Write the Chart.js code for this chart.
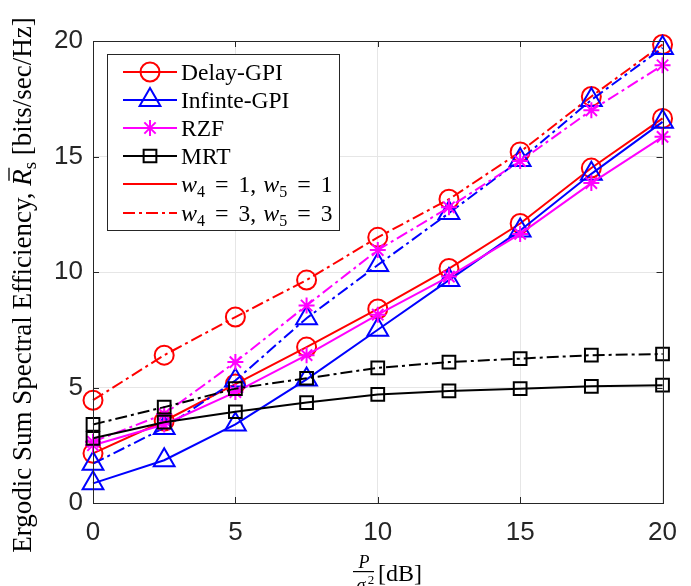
<!DOCTYPE html>
<html>
<head>
<meta charset="utf-8">
<script src="https://cdn.jsdelivr.net/npm/chart.js@4/dist/chart.umd.min.js"></script>
<style>
  html, body { margin: 0; padding: 0; background: #fff; }
  #wrap { width: 691px; height: 586px; }
</style>
</head>
<body>
<div id="wrap"><canvas id="c" width="691" height="586"></canvas></div>
<script>
// P/sigma^2 in dB
const snr = [0, 2.5, 5, 7.5, 10, 12.5, 15, 17.5, 20];

// w4 = 1, w5 = 1 (solid)
const delayW1 = [2.15, 3.55, 5.15, 6.75, 8.4, 10.15, 12.1, 14.5, 16.65];
const infW1   = [0.85, 1.85, 3.4, 5.35, 7.5, 9.65, 11.8, 14.25, 16.5];
const rzfW1   = [2.5, 3.4, 4.8, 6.4, 8.15, 9.8, 11.65, 13.85, 15.85];
const mrtW1   = [2.8, 3.5, 3.95, 4.35, 4.7, 4.85, 4.95, 5.05, 5.1];

// w4 = 3, w5 = 3 (dash-dot)
const delayW3 = [4.45, 6.4, 8.05, 9.65, 11.5, 13.15, 15.2, 17.6, 19.85];
const infW3   = [1.7, 3.25, 5.3, 8.0, 10.3, 12.55, 14.85, 17.45, 19.7];
const rzfW3   = [2.65, 3.85, 6.1, 8.55, 10.95, 12.8, 14.8, 17.0, 18.95];
const mrtW3   = [3.4, 4.15, 4.95, 5.4, 5.85, 6.1, 6.25, 6.4, 6.45];

const xTicks = [0, 5, 10, 15, 20];
const yTicks = [0, 5, 10, 15, 20];

const methods = ['Delay-GPI', 'Infinte-GPI', 'RZF', 'MRT'];
const colors = ['#ff0000', '#0000ff', '#ff00ff', '#000000'];
const markers = ['circle', 'triangle', 'star', 'rect'];
const radii = [9.5, 12, 8, 9];
const dashDot = [12, 4, 3, 4];

const toPts = arr => arr.map((v, i) => ({ x: snr[i], y: v }));

function series(label, values, k, dashed) {
  return {
    label: label,
    data: toPts(values),
    borderColor: colors[k],
    borderWidth: 2,
    borderDash: dashed ? dashDot : [],
    pointStyle: markers[k],
    pointRadius: radii[k],
    pointBorderWidth: 2,
    pointBorderColor: colors[k],
    pointBackgroundColor: 'rgba(0,0,0,0)',
    fill: false,
    tension: 0,
    clip: false
  };
}

const datasets = [
  series('Delay-GPI w1', delayW1, 0, false),
  series('Delay-GPI w3', delayW3, 0, true),
  series('Infinte-GPI w1', infW1, 1, false),
  series('Infinte-GPI w3', infW3, 1, true),
  series('RZF w1', rzfW1, 2, false),
  series('RZF w3', rzfW3, 2, true),
  series('MRT w1', mrtW1, 3, false),
  series('MRT w3', mrtW3, 3, true)
];
// later series on top, like matlab
datasets.forEach((d, i) => { d.order = datasets.length - i; });

const SERIF = '"Liberation Serif", "Times New Roman", serif';
const AXIS = '#262626';

// marker for the legend box
function marker(ctx, style, x, y, r) {
  ctx.beginPath();
  if (style === 'circle') {
    ctx.arc(x, y, r, 0, Math.PI * 2);
  } else if (style === 'triangle') {
    ctx.moveTo(x, y - r);
    ctx.lineTo(x + r * 0.866, y + r * 0.5);
    ctx.lineTo(x - r * 0.866, y + r * 0.5);
    ctx.closePath();
  } else if (style === 'star') {
    for (let a = 0; a < 4; a++) {
      const t = a * Math.PI / 4;
      ctx.moveTo(x - Math.cos(t) * r, y - Math.sin(t) * r);
      ctx.lineTo(x + Math.cos(t) * r, y + Math.sin(t) * r);
    }
  } else {
    const s = r * Math.SQRT1_2;
    ctx.rect(x - s, y - s, 2 * s, 2 * s);
  }
  ctx.stroke();
}

// draw a run of pieces [text, font, dy, gapAfter]
function drawRun(ctx, pieces, x, y) {
  let cx = x;
  pieces.forEach(p => {
    ctx.font = p[1];
    ctx.fillText(p[0], cx, y + p[2]);
    cx += ctx.measureText(p[0]).width + (p[3] || 0);
  });
  return cx;
}
function runWidth(ctx, pieces) {
  let w = 0;
  pieces.forEach(p => { ctx.font = p[1]; w += ctx.measureText(p[0]).width + (p[3] || 0); });
  return w;
}

const decor = {
  id: 'decor',
  afterDatasetsDraw(chart) {
    const ctx = chart.ctx;
    const a = chart.chartArea;
    const xs = chart.scales.x, ys = chart.scales.y;
    ctx.save();

    // axes box with inward ticks
    ctx.strokeStyle = AXIS;
    ctx.lineWidth = 1;
    ctx.setLineDash([]);
    ctx.strokeRect(Math.round(a.left) + 0.5, Math.round(a.top) + 0.5,
      Math.round(a.right - a.left), Math.round(a.bottom - a.top));
    ctx.beginPath();
    xTicks.forEach(v => {
      const px = Math.round(xs.getPixelForValue(v)) + 0.5;
      ctx.moveTo(px, a.bottom); ctx.lineTo(px, a.bottom - 6);
      ctx.moveTo(px, a.top); ctx.lineTo(px, a.top + 6);
    });
    yTicks.forEach(v => {
      const py = Math.round(ys.getPixelForValue(v)) + 0.5;
      ctx.moveTo(a.left, py); ctx.lineTo(a.left + 6, py);
      ctx.moveTo(a.right, py); ctx.lineTo(a.right - 6, py);
    });
    ctx.stroke();

    // legend
    const lx = 107, ly = 54, lw = 232, lh = 176;
    ctx.fillStyle = '#ffffff';
    ctx.fillRect(lx, ly, lw, lh);
    ctx.strokeStyle = AXIS;
    ctx.strokeRect(lx + 0.5, ly + 0.5, lw, lh);

    const rows = [72, 100, 128, 156, 184, 213];
    ctx.lineWidth = 2;
    methods.forEach((m, k) => {
      const y = rows[k];
      ctx.strokeStyle = colors[k];
      ctx.setLineDash([]);
      ctx.beginPath(); ctx.moveTo(123, y); ctx.lineTo(177, y); ctx.stroke();
      marker(ctx, markers[k], 150, y, radii[k]);
      ctx.fillStyle = '#000';
      ctx.font = '23.5px ' + SERIF;
      ctx.textBaseline = 'alphabetic';
      ctx.fillText(m, 181, y + 8);
    });
    const mathRow = (v) => [
      ['w', 'italic 24px ' + SERIF, 0, 0],
      ['4', '16px ' + SERIF, 5, 10],
      ['=', '24px ' + SERIF, 0, 10],
      [v, '23.5px ' + SERIF, 0, 0],
      [',', '23.5px ' + SERIF, 0, 7],
      ['w', 'italic 24px ' + SERIF, 0, 0],
      ['5', '16px ' + SERIF, 5, 10],
      ['=', '24px ' + SERIF, 0, 10],
      [v, '23.5px ' + SERIF, 0, 0]
    ];
    ctx.strokeStyle = colors[0];
    ctx.beginPath(); ctx.moveTo(123, rows[4]); ctx.lineTo(177, rows[4]); ctx.stroke();
    ctx.setLineDash(dashDot);
    ctx.beginPath(); ctx.moveTo(123, rows[5]); ctx.lineTo(177, rows[5]); ctx.stroke();
    ctx.setLineDash([]);
    ctx.fillStyle = '#000';
    drawRun(ctx, mathRow('1'), 181, rows[4] + 8);
    drawRun(ctx, mathRow('3'), 181, rows[5] + 8);

    // y axis title
    const yt = [
      ['Ergodic Sum Spectral Efficiency, ', '27px ' + SERIF, 0, 0],
      ['R', 'italic 27px ' + SERIF, 0, 0],
      ['s', '19px ' + SERIF, 5, 0],
      [' [bits/sec/Hz]', '27px ' + SERIF, 0, 0]
    ];
    const tw = runWidth(ctx, yt);
    ctx.save();
    ctx.translate(31, 285);
    ctx.rotate(-Math.PI / 2);
    ctx.fillStyle = '#000';
    const start = -tw / 2;
    drawRun(ctx, yt, start, 0);
    // bar over R
    ctx.font = '27px ' + SERIF;
    const rx = start + ctx.measureText(yt[0][0]).width;
    ctx.lineWidth = 1.3;
    ctx.strokeStyle = '#000';
    ctx.beginPath(); ctx.moveTo(rx + 5, -22); ctx.lineTo(rx + 18, -22); ctx.stroke();
    ctx.restore();

    // x axis title: P / sigma^2 [dB]
    ctx.fillStyle = '#000';
    ctx.textAlign = 'center';
    ctx.font = 'italic 18px ' + SERIF;
    ctx.fillText('P', 364, 568);
    ctx.fillRect(353, 571, 21, 1.2);
    ctx.fillText('\u03c3', 361, 591);
    ctx.font = '13px ' + SERIF;
    ctx.fillText('2', 371, 584);
    ctx.textAlign = 'left';
    ctx.font = '24px ' + SERIF;
    ctx.fillText('[dB]', 378, 581);

    ctx.restore();
  }
};

const tickFont = { family: '"Liberation Sans", Arial, sans-serif', size: 26 };

new Chart(document.getElementById('c'), {
  type: 'line',
  data: { datasets: datasets },
  options: {
    responsive: false,
    animation: false,
    events: [],
    layout: { padding: { left: 33, right: 18, top: 41, bottom: 43 } },
    plugins: { legend: { display: false }, tooltip: { enabled: false } },
    scales: {
      x: {
        type: 'linear', min: 0, max: 20,
        afterBuildTicks(s) { s.ticks = xTicks.map(v => ({ value: v })); },
        afterFit(s) { s.height = 40; },
        ticks: { font: tickFont, color: AXIS, padding: 14, maxRotation: 0 },
        grid: { color: '#e6e6e6', drawTicks: false },
        border: { display: false }
      },
      y: {
        type: 'linear', min: 0, max: 20,
        afterBuildTicks(s) { s.ticks = yTicks.map(v => ({ value: v })); },
        afterFit(s) { s.width = 60; },
        ticks: { font: tickFont, color: AXIS, padding: 10 },
        grid: { color: '#e6e6e6', drawTicks: false },
        border: { display: false }
      }
    }
  },
  plugins: [decor]
});
</script>
</body>
</html>
